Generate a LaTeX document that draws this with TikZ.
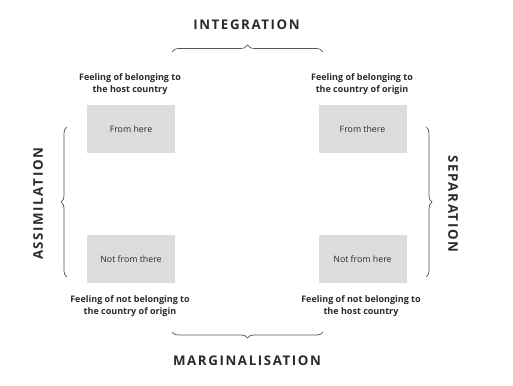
\documentclass[tikz,border=0pt]{standalone}
\usepackage{fontspec}
\setmainfont{Open Sans}
\newfontfamily\titlefont[LetterSpace=12]{Open Sans}
\usetikzlibrary{decorations.pathreplacing}
\definecolor{boxgray}{HTML}{DCDCDC}
\definecolor{txt}{HTML}{2A2A2A}
\definecolor{bracecol}{HTML}{555555}
\tikzset{
  cell/.style={fill=boxgray, draw=none, minimum width=88pt, minimum height=48pt, inner sep=0pt, font=\fontsize{8.8}{10}\selectfont, text=txt},
  feel/.style={align=center, font=\bfseries\fontsize{9}{12}\selectfont, text=txt, inner sep=0pt},
  title/.style={font=\titlefont\bfseries\fontsize{13.3}{15}\selectfont, text=txt, inner sep=0pt},
  brc/.style={decorate, decoration={brace, amplitude=#1}, draw=bracecol, line width=0.7pt},
}
\begin{document}
\begin{tikzpicture}[x=1pt,y=1pt]
\useasboundingbox (0,0) rectangle (513,385);
% boxes
\node[cell] (fh) at (131,256) {From here};
\node[cell] (ft) at (362.5,256) {From there};
\node[cell] (nft) at (131,125.5) {Not from there};
\node[cell] (nfh) at (362.5,125.5) {Not from here};
% feeling labels
\node[feel] (l1) at (130,301) {Feeling of belonging to\\the host country};
\node[feel] (l2) at (362,301) {Feeling of belonging to\\the country of origin};
\node[feel] (l3) at (130,79) {Feeling of not belonging to\\the country of origin};
\node[feel] (l4) at (361,79) {Feeling of not belonging to\\the host country};
% titles
\node[title] (int) at (246.5,360) {INTEGRATION};
\node[title] (mar) at (247,24) {MARGINALISATION};
\node[title, rotate=90] (ass) at (38,181) {ASSIMILATION};
\node[title, rotate=-90] (sep) at (453,181) {SEPARATION};
% braces
\coordinate (tb1) at (172,333);
\coordinate (tb2) at (323,333);
\coordinate (bb1) at (323,53);
\coordinate (bb2) at (172,53);
\coordinate (lb1) at (67,108);
\coordinate (lb2) at (67,258);
\coordinate (rb1) at (426,258);
\coordinate (rb2) at (426,108);
\draw[brc=7] (tb1) -- (tb2);
\draw[brc=6] (bb1) -- (bb2);
\draw[brc=6] (lb1) -- (lb2);
\draw[brc=6] (rb1) -- (rb2);
\end{tikzpicture}
\end{document}
